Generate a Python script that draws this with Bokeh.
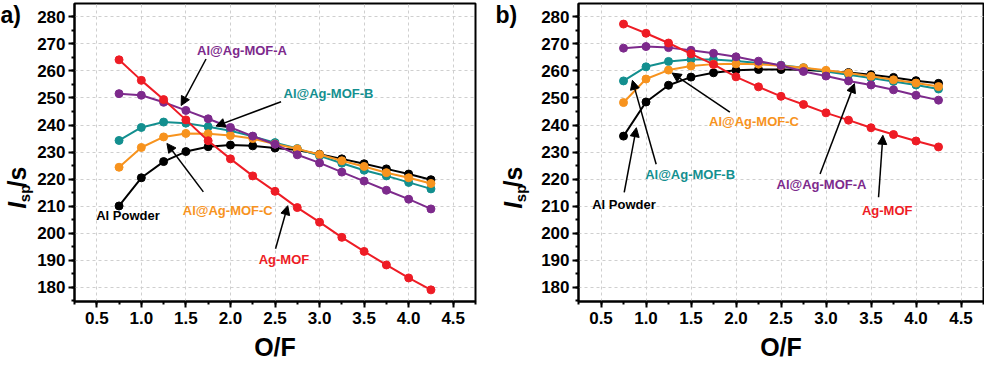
import math
from bokeh.plotting import figure
from bokeh.layouts import row
from bokeh.models import (Range1d, SingleIntervalTicker, NumeralTickFormatter, Label,
                          Arrow, NormalHead)
from bokeh.embed import file_html
from bokeh.resources import INLINE

# ---------------- data ----------------
of_ratio = [0.75, 1.0, 1.25, 1.5, 1.75, 2.0, 2.25, 2.5, 2.75, 3.0, 3.25, 3.5, 3.75, 4.0, 4.25]

# panel a)
a_ag_mof = [264.1, 256.5, 249.4, 241.9, 234.2, 227.5, 221.2, 215.5, 209.5, 204.1, 198.5, 193.3, 188.3, 183.5, 179.1]
a_mof_a = [251.6, 251.0, 248.4, 245.4, 242.3, 239.1, 235.9, 232.9, 229.0, 226.0, 222.6, 219.3, 215.9, 212.6, 209.0]
a_mof_b = [234.3, 239.1, 241.1, 240.7, 239.4, 237.9, 235.8, 233.5, 231.3, 228.6, 225.9, 223.3, 221.2, 218.8, 216.4]
a_mof_c = [224.4, 231.7, 235.6, 236.9, 236.8, 236.1, 235.0, 233.0, 231.2, 229.1, 226.8, 224.7, 222.4, 220.5, 218.4]
a_al_powder = [210.1, 220.5, 226.5, 230.2, 232.0, 232.6, 232.3, 231.5, 230.8, 229.2, 227.5, 225.7, 223.8, 221.9, 219.8]

# panel b)
b_ag_mof = [277.3, 273.9, 270.3, 266.3, 262.4, 257.8, 254.1, 250.6, 247.6, 244.5, 241.8, 239.0, 236.5, 234.1, 231.9]
b_mof_a = [268.4, 269.0, 268.6, 267.6, 266.5, 265.2, 263.6, 262.0, 259.8, 258.1, 256.3, 254.8, 253.0, 251.0, 249.2]
b_mof_b = [256.3, 261.5, 263.5, 264.2, 264.2, 263.7, 262.9, 262.1, 261.2, 259.8, 258.6, 257.4, 256.1, 254.8, 253.3]
b_mof_c = [248.3, 257.0, 260.3, 261.8, 262.5, 262.6, 262.5, 261.9, 261.2, 260.2, 259.2, 258.0, 256.7, 255.5, 254.2]
b_al_powder = [235.9, 248.5, 254.7, 257.7, 259.3, 260.2, 260.5, 260.5, 260.4, 259.9, 259.4, 258.6, 257.6, 256.4, 255.4]

series_names = ["Al Powder", "Al@Ag-MOF-B", "Al@Ag-MOF-C", "Al@Ag-MOF-A", "Ag-MOF"]
colors = {"Al Powder": "#000000", "Al@Ag-MOF-B": "#138f8f", "Al@Ag-MOF-C": "#f7931e",
          "Al@Ag-MOF-A": "#7d2a8c", "Ag-MOF": "#ee1c25"}

data_a = {"Al Powder": a_al_powder, "Al@Ag-MOF-B": a_mof_b, "Al@Ag-MOF-C": a_mof_c,
          "Al@Ag-MOF-A": a_mof_a, "Ag-MOF": a_ag_mof}
data_b = {"Al Powder": b_al_powder, "Al@Ag-MOF-B": b_mof_b, "Al@Ag-MOF-C": b_mof_c,
          "Al@Ag-MOF-A": b_mof_a, "Ag-MOF": b_ag_mof}

# annotation label positions (data coords) and arrows (start -> end)
labels_a = {"Al@Ag-MOF-A": (2.13, 267.7), "Al@Ag-MOF-B": (3.10, 251.8),
            "Al@Ag-MOF-C": (1.97, 208.4), "Ag-MOF": (2.60, 190.4), "Al Powder": (0.85, 206.5)}
arrows_a = [(1.726, 264.4, 1.447, 247.2), (2.568, 248.6, 1.837, 239.6),
            (1.696, 215.3, 1.287, 233.2), (2.506, 194.3, 2.643, 210.2)]
labels_b = {"Al@Ag-MOF-C": (2.20, 241.4), "Al@Ag-MOF-B": (1.49, 221.9),
            "Al@Ag-MOF-A": (2.95, 218.1), "Ag-MOF": (3.68, 208.3), "Al Powder": (0.755, 210.6)}
arrows_b = [(0.758, 215.1, 0.893, 239.0), (1.113, 225.5, 0.849, 256.5),
            (1.932, 244.8, 1.290, 259.2), (2.934, 221.9, 3.316, 255.3),
            (3.584, 213.3, 3.632, 236.2)]

FONT = "Liberation Sans"
H = 363


def make_side(width, tag, tag_x, ylab_x):
    """Narrow figure holding the panel tag and the rotated y-axis title."""
    s = figure(width=width, height=H, output_backend="svg", toolbar_location=None,
               x_range=Range1d(0, width), y_range=Range1d(0, H),
               x_axis_location=None, y_axis_location=None,
               min_border=0, min_border_left=0, min_border_right=0,
               min_border_top=0, min_border_bottom=0)
    s.outline_line_color = None
    s.xgrid.visible = False
    s.ygrid.visible = False
    s.add_layout(Label(x=tag_x, y=H - 14, text=tag, text_align="left",
                       text_baseline="middle", text_font=FONT, text_font_style="bold",
                       text_font_size="23px", text_color="black"))
    ang = math.pi / 2
    y0 = 113
    s.add_layout(Label(x=ylab_x, y=y0, text="I", angle=ang,
                       text_align="left", text_baseline="alphabetic", text_font=FONT,
                       text_font_style="bold italic", text_font_size="25px", text_color="black"))
    s.add_layout(Label(x=ylab_x + 8, y=y0 + 8, text="sp", angle=ang,
                       text_align="left", text_baseline="alphabetic", text_font=FONT,
                       text_font_style="bold", text_font_size="15px", text_color="black"))
    s.add_layout(Label(x=ylab_x, y=y0 + 26, text="/s", angle=ang,
                       text_align="left", text_baseline="alphabetic", text_font=FONT,
                       text_font_style="bold", text_font_size="25px", text_color="black"))
    return s


def make_panel(data, labels, arrows, width, border_left, border_right):
    p = figure(width=width, height=H, output_backend="svg", toolbar_location=None,
               x_range=Range1d(0.25, 4.75), y_range=Range1d(174.8, 284.9),
               min_border_left=border_left, min_border_right=border_right,
               min_border_top=3, min_border_bottom=0)
    p.background_fill_color = "white"
    p.border_fill_color = "white"
    p.outline_line_color = "black"
    p.outline_line_width = 2

    p.xaxis.ticker = SingleIntervalTicker(interval=0.5, num_minor_ticks=2)
    p.yaxis.ticker = SingleIntervalTicker(interval=10, num_minor_ticks=2)
    p.xaxis.formatter = NumeralTickFormatter(format="0.0")
    for ax in (p.xaxis, p.yaxis):
        ax.axis_line_width = 2
        ax.axis_line_color = "black"
        ax.major_tick_line_width = 2
        ax.minor_tick_line_width = 2
        ax.major_tick_out = 6
        ax.major_tick_in = 0
        ax.minor_tick_out = 3
        ax.minor_tick_in = 0
        ax.major_label_text_font = FONT
        ax.major_label_text_font_style = "bold"
        ax.major_label_text_font_size = "17px"
        ax.major_label_text_color = "black"
        ax.major_label_text_line_height = 1.0
    p.xaxis.major_label_standoff = 4
    p.yaxis.major_label_standoff = 3
    p.xaxis.axis_label = "O/F"
    p.xaxis.axis_label_text_font = FONT
    p.xaxis.axis_label_text_font_style = "bold"
    p.xaxis.axis_label_text_font_size = "25px"
    p.xaxis.axis_label_text_color = "black"
    p.xaxis.axis_label_text_line_height = 1.0
    p.xaxis.axis_label_standoff = 6

    for g in (p.xgrid, p.ygrid):
        g.grid_line_color = "#cfcfcf"
        g.grid_line_dash = "3 3"
        g.grid_line_width = 1

    for name in series_names:
        c = colors[name]
        p.line(of_ratio, data[name], line_color=c, line_width=2)
        p.scatter(of_ratio, data[name], size=8, fill_color=c, line_color=c)

    for (xs, ys, xe, ye) in arrows:
        p.add_layout(Arrow(end=NormalHead(size=9, fill_color="black", line_color="black", line_width=1),
                           x_start=xs, y_start=ys, x_end=xe, y_end=ye,
                           line_color="black", line_width=1.5))

    for name, (lx, ly) in labels.items():
        p.add_layout(Label(x=lx, y=ly, text=name, text_align="center", text_baseline="middle",
                           text_font=FONT, text_font_style="bold", text_font_size="13px",
                           text_color=colors[name]))
    return p


side_a = make_side(34, "a)", 0, 16)
p1 = make_panel(data_a, labels_a, arrows_a, 458, 38, 17)
side_b = make_side(40, "b)", 3, 20)
p2 = make_panel(data_b, labels_b, arrows_b, 452, 46, 1)

layout = row(side_a, p1, side_b, p2)
open("out.html", "w").write(file_html(layout, INLINE))
